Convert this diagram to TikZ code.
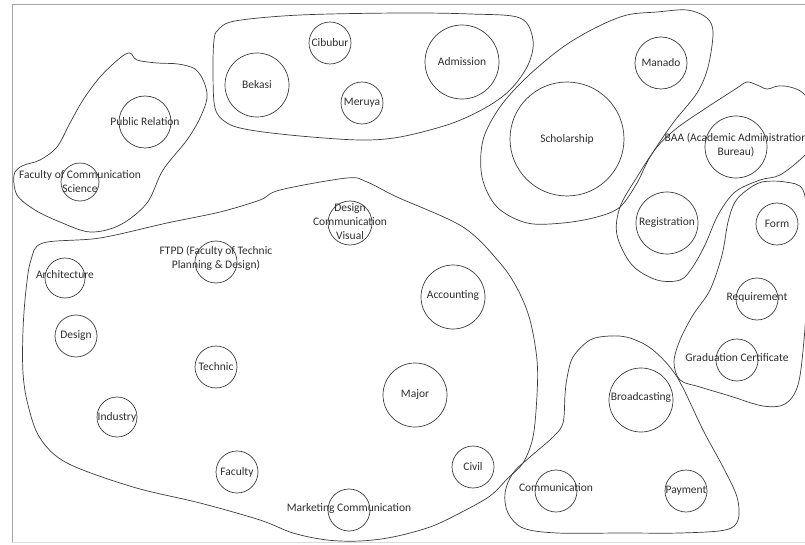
\documentclass[tikz,border=0pt]{standalone}
\usepackage{fontspec}
\setmainfont{Carlito}
\definecolor{cRim}{HTML}{3C3C3C}
\definecolor{cPen}{HTML}{2E2E2E}
\definecolor{cFrame}{HTML}{A4A4A4}
\definecolor{cFrameL}{HTML}{DADADA}
\tikzset{
  bub/.style={circle,draw=cRim,line width=0.7pt,minimum size={2*#1pt},inner sep=0pt},
  txt/.style={font=\fontsize{11.5}{14}\selectfont,text=cPen,align=center,inner sep=0pt},
  grp/.style={draw=cRim,line width=0.7pt},
}
\begin{document}
\begin{tikzpicture}[x=1pt,y=-1pt]
    \useasboundingbox (0,0) rectangle (805,545);
    % page frame (open on the right)
    \draw[cFrame,line width=1pt] (812,5) -- (12,5) -- (12,542);
    \draw[cFrameL,line width=1pt] (12,542) -- (812,542);
    % groups
    \draw[grp] plot[smooth cycle,tension=0.55] coordinates {(130,53) (137,60) (157,63) (178,64) (195,69) (204,82) (207,98) (200,118) (187,140) (163,170) (147,203) (120,225) (90,232) (60,222) (35,210) (17,195) (14,175) (22,166) (40,160) (57,147) (70,123) (83,100) (100,77) (120,58)};
    \draw[grp] plot[smooth cycle,tension=0.55] coordinates {(218,30) (235,21) (300,15) (400,13) (470,14) (520,18) (533,40) (528,65) (510,90) (485,108) (450,124) (400,137) (360,140) (300,136) (250,130) (227,123) (215,108) (213,70) (214,40)};
    \draw[grp] plot[smooth cycle,tension=0.55] coordinates {(657,12) (687,10) (707,18) (713,33) (708,67) (697,93) (673,123) (650,157) (637,183) (620,207) (597,217) (563,223) (527,223) (497,207) (482,177) (483,140) (500,107) (527,77) (563,47) (597,27) (627,15)};
    \draw[grp] plot[smooth cycle,tension=0.55] coordinates {(737,88) (747,82) (757,85) (767,89) (778,86) (790,87) (803,93) (815,110) (816,140) (803,157) (780,175) (760,180) (735,192) (718,215) (705,245) (692,268) (680,280) (657,280) (632,265) (617,235) (620,207) (637,177) (657,147) (677,128) (703,110) (723,97)};
    \draw[grp] plot[smooth cycle,tension=0.55] coordinates {(747,190) (762,182) (785,182) (803,190) (808,230) (807,290) (804,340) (798,385) (785,404) (763,406) (730,396) (700,387) (680,380) (674,362) (680,340) (693,315) (710,290) (722,255) (728,222) (735,202)};
    \draw[grp] plot[smooth cycle,tension=0.55] coordinates {(610,336) (630,338) (653,350) (677,377) (703,430) (723,467) (737,497) (738,520) (725,530) (680,533) (623,533) (557,533) (523,528) (508,513) (505,493) (513,473) (530,457) (553,437) (563,423) (565,395) (567,378) (573,357) (590,340)};
    \draw[grp] plot[smooth cycle,tension=0.55] coordinates {(43,243) (100,238) (167,223) (220,212) (260,200) (280,190) (347,178) (367,182) (397,197) (463,227) (500,263) (518,290) (530,320) (537,360) (537,395) (533,437) (523,463) (508,478) (490,496) (460,513) (430,527) (393,537) (360,541) (327,540) (293,533) (260,520) (200,503) (133,487) (67,463) (40,438) (28,405) (23,373) (23,330) (26,290) (31,260)};
    % bubbles: name/x/y/radius/text shift/text
    \foreach \n/\x/\y/\r/\s/\t in {
        pr/145/122/26/0/{Public Relation},
        fcs/80/182/19/0/{Faculty of Communication\\Science},
        bekasi/257/85/32/0/{Bekasi},
        cibubur/330/43/21/0/{Cibubur},
        meruya/362/103/21/0/{Meruya},
        adm/462/62/37/0/{Admission},
        manado/661/63/26/0/{Manado},
        schol/567/139/57/0/{Scholarship},
        baa/736/147/31/2/{BAA (Academic Administration\\Bureau)},
        reg/667/223/31/0/{Registration},
        form/777/224/21/0/{Form},
        req/757/299/21/2/{Requirement},
        grad/737/360/21/2/{Graduation Certificate},
        broad/641/400/32/3/{Broadcasting},
        comm/556/491/21/3/{Communication},
        pay/686/491/21/0/{Payment},
        dcv/350/223/22/1/{Design\\Communication\\Visual},
        ftpd/216/262/21/4/{FTPD (Faculty of Technic\\Planning \& Design)},
        arch/65/278/20/3/{Architecture},
        design/76/336/21/0/{Design},
        technic/216/367/21/0/{Technic},
        industry/117/417/20/0/{Industry},
        faculty/237/472/21/0/{Faculty},
        acc/453/297/32/1/{Accounting},
        major/415/395/32/0/{Major},
        civil/473/467/21/0/{Civil},
        mkt/349/510/21/2/{Marketing Communication}}{
      \node[bub=\r,label={[txt,yshift=\s pt]center:\t}] (\n) at (\x,\y) {};}
\end{tikzpicture}
\end{document}
